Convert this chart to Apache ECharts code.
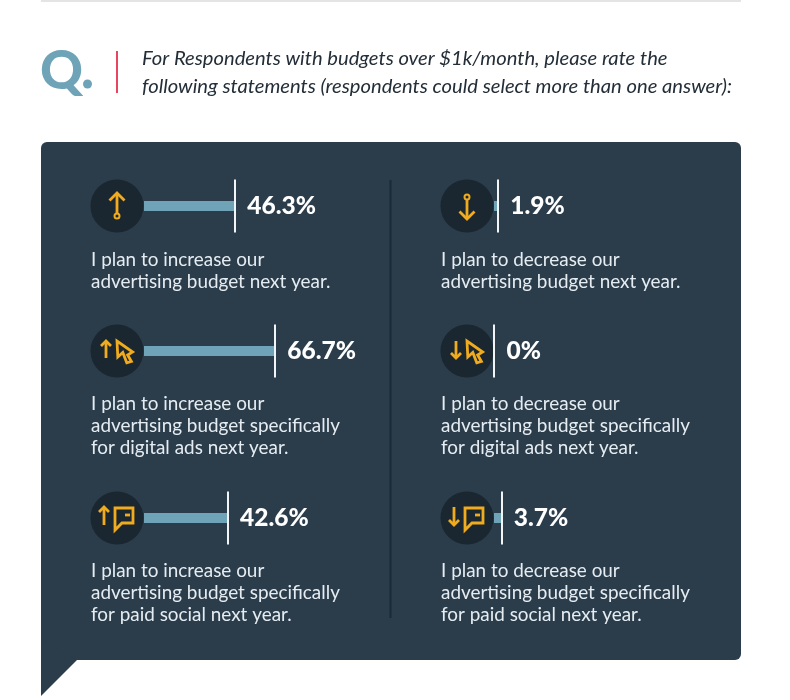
<!DOCTYPE html>
<html><head><meta charset="utf-8">
<style>html,body{margin:0;padding:0;background:#fff}#c{width:790px;height:700px}</style>
<script src="https://cdn.jsdelivr.net/npm/echarts@6/dist/echarts.min.js"></script>
</head><body><div id="c"></div>
<script>
var titleLines = ['For Respondents with budgets over $1k/month, please rate the',
  'following statements (respondents could select more than one answer):'];
var values = [46.3, 66.7, 42.6, 1.9, 0, 3.7];
var labels = ['46.3%', '66.7%', '42.6%', '1.9%', '0%', '3.7%'];
var descriptions = [
  ['I plan to increase our', 'advertising budget next year.'],
  ['I plan to increase our', 'advertising budget specifically', 'for digital ads next year.'],
  ['I plan to increase our', 'advertising budget specifically', 'for paid social next year.'],
  ['I plan to decrease our', 'advertising budget next year.'],
  ['I plan to decrease our', 'advertising budget specifically', 'for digital ads next year.'],
  ['I plan to decrease our', 'advertising budget specifically', 'for paid social next year.']
];
var rowY = [206, 351, 518, 206, 351, 518];
var descY = [260, 404, 571, 260, 404, 571];
var colX = [117, 117, 117, 467, 467, 467];
var barX = [144, 144, 144, 494, 494, 494];

var FONT = 'Lato', NAVY = '#2b3c4b', DARK = '#1a2630', TEAL = '#6fa3b8', GOLD = '#f0ab1e', TXT = '#e6edf2';
var g = [];
function gold(el){ el.style = Object.assign({stroke:GOLD, lineWidth:2.8, fill:'none', lineJoin:'miter'}, el.style||{}); el.z = 3; g.push(el); }
function poly(pts, closed){ gold({type: closed?'polygon':'polyline', shape:{points:pts}}); }
function arrow(x, top, bot, up, w){
  poly([[x,top],[x,bot]]);
  if (up) poly([[x-w,top+w],[x,top],[x+w,top+w]]);
  else poly([[x-w,bot-w],[x,bot],[x+w,bot-w]]);
}
function cursor(cx, cy){
  var o = [[0,-10],[0.8,6],[5.8,1.5],[9.8,11.8],[14.4,10.5],[10.6,4],[15.6,1]];
  poly(o.map(function(p){return [cx+p[0],cy+p[1]];}), true);
}
function bubble(cx, cy){
  poly([[-2,-10],[16,-10],[16,5],[5,5],[-2,12]].map(function(p){return [cx+p[0],cy+p[1]];}), true);
  poly([[cx+8,cy-3],[cx+13,cy-3]]);
}

// page furniture
g.push({type:'rect', shape:{x:41,y:0,width:700,height:2}, style:{fill:'#e4e4e4'}});
g.push({type:'text', x:40, y:72, style:{text:'Q', font:'900 53px '+FONT, fill:TEAL, textVerticalAlign:'middle'}});
g.push({type:'circle', shape:{cx:87.5,cy:84,r:4.5}, style:{fill:TEAL}});
g.push({type:'rect', shape:{x:116,y:51,width:2,height:42}, style:{fill:'#e8455f'}});
titleLines.forEach(function(t,i){
  g.push({type:'text', x:142, y:[58,86][i], style:{text:t, font:'italic 400 20.2px '+FONT, fill:'#232e38', textVerticalAlign:'middle'}});
});
// panel with rounded corners and speech tail
g.push({type:'rect', shape:{x:41,y:142,width:700,height:518,r:6}, style:{fill:NAVY}});
g.push({type:'polygon', shape:{points:[[41,640],[77,660],[41,696]]}, style:{fill:NAVY}});
g.push({type:'rect', shape:{x:389.5,y:180,width:2,height:438}, style:{fill:'#1b2a37'}, z:1});

values.forEach(function(v,i){
  g.push({type:'circle', shape:{cx:colX[i],cy:rowY[i],r:26.5}, style:{fill:DARK}, z:1});
  descriptions[i].forEach(function(line,j){
    g.push({type:'text', x:colX[i]-26, y:descY[i]+22*j, z:1, style:{text:line, font:'400 18.9px '+FONT, fill:TXT, textVerticalAlign:'middle'}});
  });
});
// icons
arrow(117,193,213,true,7.5);
gold({type:'circle', shape:{cx:117,cy:216,r:2.5}, style:{lineWidth:2}});
arrow(467,200,219,false,7.5);
gold({type:'circle', shape:{cx:467,cy:197,r:2.5}, style:{lineWidth:2}});
arrow(106,341,358,true,5); cursor(117,351);
arrow(104,507,525,true,5); bubble(117,518);
arrow(456,341,358,false,5); cursor(467,351);
arrow(454,507,525,false,5); bubble(467,518);

var grids=[], xAxes=[], yAxes=[], series=[];
values.forEach(function(v,i){
  grids.push({left:barX[i], top:rowY[i]-26.5, width:196, height:53});
  xAxes.push({type:'value', gridIndex:i, min:0, max:100, show:false});
  yAxes.push({type:'category', gridIndex:i, data:[descriptions[i][0]], show:false});
  series.push({
    type:'bar', xAxisIndex:i, yAxisIndex:i, data:[v], barWidth:10, silent:true,
    itemStyle:{color:TEAL},
    label:{show:true, position:'right', distance:12.5, formatter:labels[i],
      color:'#fff', fontFamily:FONT, fontWeight:900, fontSize:24.5},
    markLine:{silent:true, symbol:'none', animation:false, label:{show:false},
      lineStyle:{color:'#f2f5f7', width:2, type:'solid'}, data:[{xAxis:v}]}
  });
});

var chart = echarts.init(document.getElementById('c'), null, {renderer:'canvas'});
chart.setOption({animation:false, backgroundColor:'#fff', textStyle:{fontFamily:FONT},
  grid:grids, xAxis:xAxes, yAxis:yAxes, series:series, graphic:{elements:g}});
</script></body></html>
